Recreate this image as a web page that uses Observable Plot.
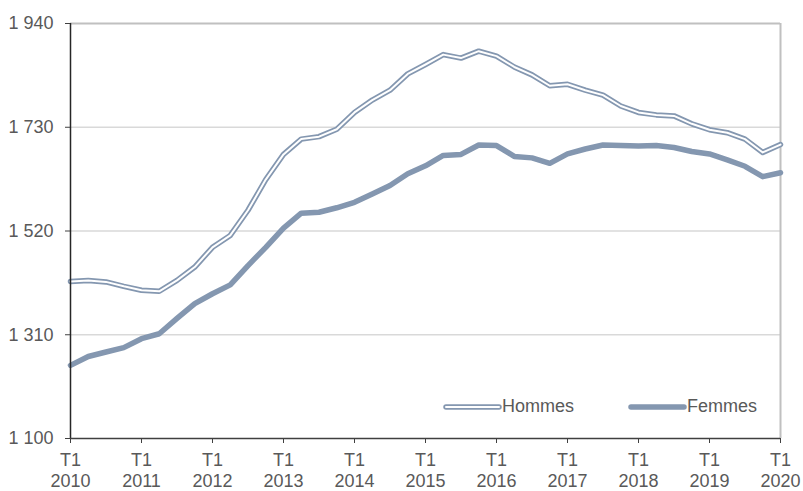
<!DOCTYPE html>
<html><head><meta charset="utf-8">
<script src="https://cdn.jsdelivr.net/npm/d3@7"></script>
<script src="https://cdn.jsdelivr.net/npm/@observablehq/plot@0.6"></script>
<style>
body{margin:0;background:#fff;font-family:"Liberation Sans",Arial,sans-serif;}
#wrap{position:relative;width:803px;height:491px;}
.leg{position:absolute;top:396px;font-size:18px;color:#595959;display:flex;align-items:center;}
</style></head><body>
<div id="wrap"></div>
<script>
const years = [2010,2011,2012,2013,2014,2015,2016,2017,2018,2019,2020];
const yTicks = [1100,1310,1520,1730,1940];
const hommes = [1418,1420,1417,1408,1400,1398,1420,1447,1487,1511,1562,1624,1675,1706,1711,1726,1760,1785,1805,1838,1857,1877,1870,1884,1874,1852,1836,1814,1817,1805,1795,1773,1760,1755,1753,1737,1725,1719,1706,1679,1695];
const femmes = [1248,1266,1275,1284,1302,1312,1343,1373,1393,1411,1450,1487,1526,1556,1558,1567,1578,1595,1612,1636,1652,1673,1675,1694,1693,1671,1668,1657,1676,1686,1694,1693,1692,1693,1689,1681,1676,1664,1651,1630,1638];

const col = "#8497b0";
const H = hommes.map((v,i)=>({q:i,v}));
const F = femmes.map((v,i)=>({q:i,v}));
const xTicks = years.map((y,i)=>i*4);
const fmt = d => d3.format(",")(d).replace(",", " ");

const chart = Plot.plot({
  width:803, height:491,
  marginLeft:70, marginRight:23, marginTop:23, marginBottom:53,
  style:{fontFamily:'"Liberation Sans",Arial,sans-serif', fontSize:"18px", color:"#595959", background:"#fff"},
  x:{domain:[0,40]},
  y:{domain:[1100,1940]},
  marks:[
    Plot.gridY(yTicks.slice(1,4), {stroke:"#d9d9d9", strokeOpacity:1, strokeWidth:1.5}),
    Plot.ruleY([yTicks[4]], {stroke:"#c0c0c0", strokeWidth:2}),
    Plot.ruleX([40], {stroke:"#c0c0c0", strokeWidth:2}),
    Plot.line(F, {x:"q", y:"v", stroke:col, strokeWidth:5.5, strokeLinejoin:"round"}),
    Plot.line(H, {x:"q", y:"v", stroke:col, strokeWidth:5.5, strokeLinejoin:"round"}),
    Plot.line(H, {x:"q", y:"v", stroke:"#fff", strokeWidth:2, strokeLinejoin:"round"}),
    Plot.ruleX([0], {stroke:"#262626", strokeWidth:1.5}),
    Plot.ruleY([1100], {stroke:"#404040", strokeWidth:1.5}),
    Plot.axisY(yTicks, {tickSize:5, tickPadding:12, tickFormat:fmt, stroke:"#404040", fill:"#595959", label:null, fontSize:18}),
    Plot.axisX(xTicks, {tickSize:5, tickPadding:8, tickFormat:d=>"T1\n"+years[d/4], stroke:"#404040", fill:"#595959", label:null, lineHeight:1.15, fontSize:18})
  ]
});
const wrap = document.getElementById("wrap");
wrap.appendChild(chart);

function legend(left, label, double){
  const d = document.createElement("div");
  d.className="leg"; d.style.left=left+"px";
  const ns="http://www.w3.org/2000/svg";
  const s=document.createElementNS(ns,"svg");
  s.setAttribute("width","59"); s.setAttribute("height","10");
  const mk=(c,w)=>{const l=document.createElementNS(ns,"line");
    l.setAttribute("x1","3");l.setAttribute("x2","56");l.setAttribute("y1","5");l.setAttribute("y2","5");
    l.setAttribute("stroke",c);l.setAttribute("stroke-width",w);l.setAttribute("stroke-linecap","round");s.appendChild(l);};
  if(double){mk(col,5.5);mk("#fff",2);} else mk(col,5.5);
  d.appendChild(s);
  const t=document.createElement("span"); t.textContent=label; d.appendChild(t);
  wrap.appendChild(d);
}
legend(443,"Hommes",true);
legend(628,"Femmes",false);
</script>
</body></html>
